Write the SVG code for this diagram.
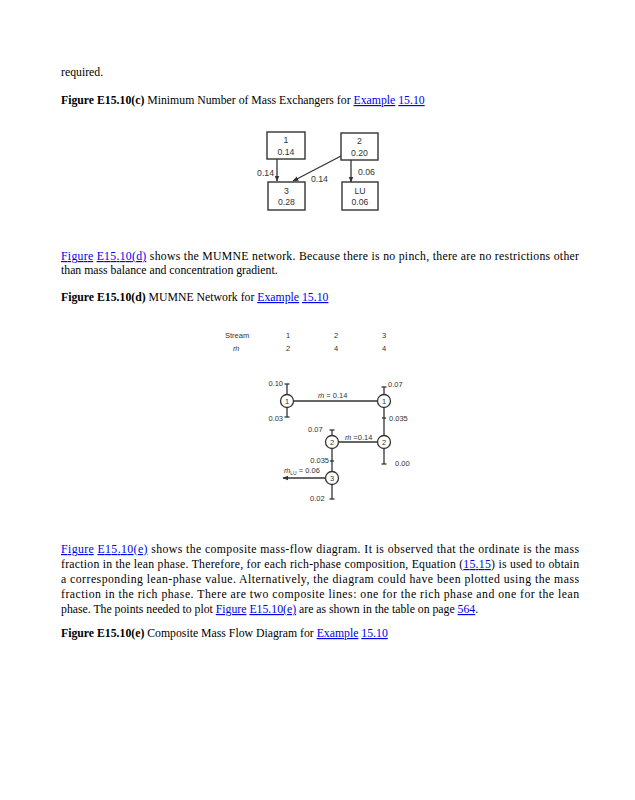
<svg xmlns="http://www.w3.org/2000/svg" width="635" height="800" viewBox="0 0 635 800">
<style>
.body{font-family:"Liberation Serif",serif;font-size:11.75px;fill:#000}
.b{font-weight:bold}
.lk{fill:#0000ee;text-decoration:underline}
.d{font-family:"Liberation Sans",Arial,sans-serif;font-size:7.5px;fill:#333}
.c{font-family:"Liberation Sans",Arial,sans-serif;font-size:8.7px;fill:#333}
.bx{fill:#fff;stroke:#333;stroke-width:1.4}
.ln{stroke:#333;stroke-width:1.3;fill:none}
.cc{fill:#fff;stroke:#333;stroke-width:1.3}
</style>
<defs>
<marker id="ah" viewBox="0 0 10 10" refX="9" refY="5" markerWidth="6" markerHeight="6" orient="auto" markerUnits="userSpaceOnUse">
<path d="M0,1 L10,5 L0,9 Z" fill="#333"/>
</marker>
</defs>
<rect width="635" height="800" fill="#fff"/>

<!-- body text -->
<text class="body" x="61" y="76">required.</text>
<text class="body" x="61" y="104"><tspan class="b">Figure E15.10(c)</tspan> Minimum Number of Mass Exchangers for <tspan class="lk">Example</tspan> <tspan class="lk">15.10</tspan></text>

<text class="body" x="61" y="260" textLength="518" lengthAdjust="spacing"><tspan class="lk">Figure</tspan> <tspan class="lk">E15.10(d)</tspan> shows the MUMNE network. Because there is no pinch, there are no restrictions other</text>
<text class="body" x="61" y="274">than mass balance and concentration gradient.</text>
<text class="body" x="61" y="301"><tspan class="b">Figure E15.10(d)</tspan> MUMNE Network for <tspan class="lk">Example</tspan> <tspan class="lk">15.10</tspan></text>

<text class="body" x="61" y="553" textLength="518" lengthAdjust="spacing"><tspan class="lk">Figure</tspan> <tspan class="lk">E15.10(e)</tspan> shows the composite mass-flow diagram. It is observed that the ordinate is the mass</text>
<text class="body" x="61" y="568" textLength="518" lengthAdjust="spacing">fraction in the lean phase. Therefore, for each rich-phase composition, Equation (<tspan class="lk">15.15</tspan>) is used to obtain</text>
<text class="body" x="61" y="583" textLength="518" lengthAdjust="spacing">a corresponding lean-phase value. Alternatively, the diagram could have been plotted using the mass</text>
<text class="body" x="61" y="598" textLength="518" lengthAdjust="spacing">fraction in the rich phase. There are two composite lines: one for the rich phase and one for the lean</text>
<text class="body" x="61" y="613">phase. The points needed to plot <tspan class="lk">Figure</tspan> <tspan class="lk">E15.10(e)</tspan> are as shown in the table on page <tspan class="lk">564</tspan>.</text>
<text class="body" x="61" y="637"><tspan class="b">Figure E15.10(e)</tspan> Composite Mass Flow Diagram for <tspan class="lk">Example</tspan> <tspan class="lk">15.10</tspan></text>

<!-- Figure E15.10(c) -->
<g id="connectors-c">
<line class="ln" x1="277" y1="159" x2="277" y2="181" marker-end="url(#ah)"/>
<line class="ln" x1="351" y1="160" x2="351" y2="182" marker-end="url(#ah)"/>
<line class="ln" x1="341" y1="156" x2="293" y2="181" marker-end="url(#ah)"/>
<text class="c" x="274" y="176" text-anchor="end">0.14</text>
<text class="c" x="311" y="182">0.14</text>
<text class="c" x="358" y="175">0.06</text>
</g>
<g id="box1">
<rect class="bx" x="267" y="132" width="38" height="27"/>
<text class="c" x="286" y="143" text-anchor="middle">1</text>
<text class="c" x="286" y="155" text-anchor="middle">0.14</text>
</g>
<g id="box2">
<rect class="bx" x="341" y="133" width="37" height="27"/>
<text class="c" x="359.5" y="144" text-anchor="middle">2</text>
<text class="c" x="359.5" y="156" text-anchor="middle">0.20</text>
</g>
<g id="box3">
<rect class="bx" x="268" y="182" width="37" height="28"/>
<text class="c" x="286.5" y="194" text-anchor="middle">3</text>
<text class="c" x="286.5" y="205" text-anchor="middle">0.28</text>
</g>
<g id="boxLU">
<rect class="bx" x="342" y="182" width="36" height="28"/>
<text class="c" x="360" y="194" text-anchor="middle">LU</text>
<text class="c" x="360" y="205" text-anchor="middle">0.06</text>
</g>

<!-- Figure E15.10(d) -->
<g id="table">
<text class="d" x="225" y="338" font-size="8">Stream</text>
<text class="d" x="288" y="338" text-anchor="middle">1</text>
<text class="d" x="336" y="338" text-anchor="middle">2</text>
<text class="d" x="384" y="338" text-anchor="middle">3</text>
<text class="d" x="233" y="351" font-style="italic" font-size="8">ṁ</text>
<text class="d" x="288" y="351" text-anchor="middle">2</text>
<text class="d" x="336" y="351" text-anchor="middle">4</text>
<text class="d" x="384" y="351" text-anchor="middle">4</text>
</g>
<g id="connectors-d">
<line class="ln" x1="287" y1="384" x2="287" y2="417"/>
<line class="ln" x1="284.5" y1="384" x2="289.5" y2="384"/>
<line class="ln" x1="284.5" y1="417" x2="289.5" y2="417"/>
<line class="ln" x1="293" y1="401" x2="377" y2="401"/>
<line class="ln" x1="384" y1="387" x2="384" y2="464"/>
<line class="ln" x1="381.5" y1="387" x2="386.5" y2="387"/>
<line class="ln" x1="382" y1="418" x2="386" y2="418"/>
<line class="ln" x1="381.5" y1="464" x2="386.5" y2="464"/>
<line class="ln" x1="337" y1="442" x2="378" y2="442"/>
<line class="ln" x1="332" y1="430" x2="332" y2="499"/>
<line class="ln" x1="329.5" y1="430" x2="334.5" y2="430"/>
<line class="ln" x1="330" y1="461" x2="334" y2="461"/>
<line class="ln" x1="329.5" y1="499" x2="334.5" y2="499"/>
<line class="ln" x1="325" y1="478" x2="283" y2="478" marker-end="url(#ah)"/>
<text class="d" x="283" y="386" text-anchor="end">0.10</text>
<text class="d" x="283" y="421" text-anchor="end">0.03</text>
<text class="d" x="318" y="398"><tspan font-style="italic">ṁ</tspan> = 0.14</text>
<text class="d" x="388" y="387">0.07</text>
<text class="d" x="389" y="421">0.035</text>
<text class="d" x="308" y="432">0.07</text>
<text class="d" x="345" y="440"><tspan font-style="italic">ṁ</tspan> =0.14</text>
<text class="d" x="395" y="466">0.00</text>
<text class="d" x="329" y="463" text-anchor="end">0.035</text>
<text class="d" x="284" y="473"><tspan font-style="italic">ṁ</tspan><tspan font-size="5" dy="1.5">LU</tspan><tspan dy="-1.5"> = 0.06</tspan></text>
<text class="d" x="310" y="501">0.02</text>
</g>
<g id="ex1L"><circle class="cc" cx="287" cy="401" r="6.5"/><text class="d" x="287" y="404" text-anchor="middle">1</text></g>
<g id="ex1R"><circle class="cc" cx="384" cy="401" r="6.5"/><text class="d" x="384" y="404" text-anchor="middle">1</text></g>
<g id="ex2L"><circle class="cc" cx="332" cy="442" r="6.5"/><text class="d" x="332" y="445" text-anchor="middle">2</text></g>
<g id="ex2R"><circle class="cc" cx="384" cy="442" r="6.5"/><text class="d" x="384" y="445" text-anchor="middle">2</text></g>
<g id="ex3"><circle class="cc" cx="332" cy="478" r="6.5"/><text class="d" x="332" y="481" text-anchor="middle">3</text></g>
</svg>
